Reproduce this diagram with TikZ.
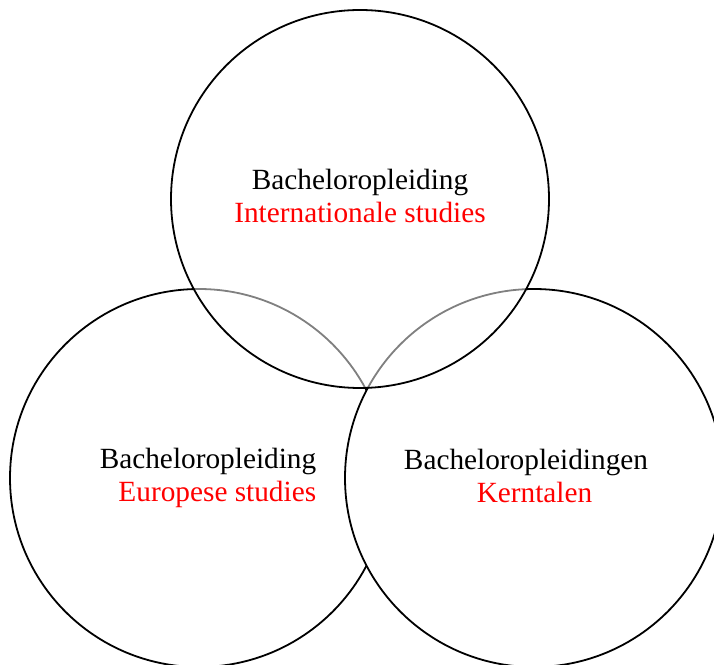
\documentclass[tikz,border=0pt]{standalone}
\usepackage{fontspec}
\setmainfont{Liberation Serif}
\usepackage{xcolor}
\usepackage{tikz}
\tikzset{
  set/.style={draw, circle, line width=1.8pt, minimum size=378pt, inner sep=0pt, fill=white},
  seethru/.style={fill opacity=0.5},
  lab/.style={font=\fontsize{29.3}{33}\selectfont, inner sep=0pt},
}

\begin{document}
\begin{tikzpicture}[x=1pt,y=1pt]
\useasboundingbox (0,0) rectangle (714,664);
\clip (0,0) rectangle (714,664);
\node[set] (euro) at (199,186) {};
\node[set] (kern) at (534,186) {};
\node[set, seethru] (intl) at (360,465) {};
\node[lab, align=center] (intllab) at ([yshift=3pt]intl.center) {Bacheloropleiding\\\textcolor{red}{Internationale studies}};
\node[lab, align=right] (eurolab) at ([xshift=9pt]euro.center) {Bacheloropleiding\\\textcolor{red}{Europese studies}};
\node[lab, align=center] (kernlab) at ([xshift=-8pt,yshift=2pt]kern.center) {Bacheloropleidingen\\\hspace*{17pt}\textcolor{red}{Kerntalen}};
\end{tikzpicture}
\end{document}
